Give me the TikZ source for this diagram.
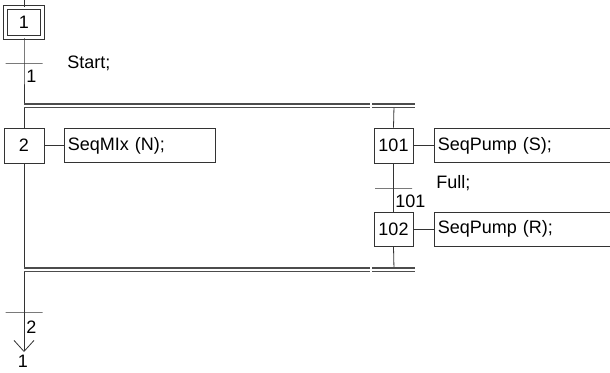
\documentclass[tikz,border=0pt]{standalone}
\usepackage{fontspec}
\setmainfont{Liberation Sans}
\usetikzlibrary{arrows.meta,positioning}

\begin{document}
\begin{tikzpicture}[x=1pt, y=-1pt, line width=0.8pt, draw=black!80,
  font=\fontsize{18}{21}\selectfont, node distance=20pt,
  stepbox/.style={draw=black!80, minimum width=40pt, minimum height=35pt, inner sep=0pt},
  initbox/.style={stepbox, double, double distance=3pt, minimum width=37pt, minimum height=30pt},
  actbox/.style={draw=black!80, minimum height=34pt, text width=#1, inner sep=3pt, align=left},
  actbox/.default={145pt},
  trans/.style={draw=black!80, minimum width=37pt, minimum height=0pt, inner sep=0pt},
  simup/.style={line width=1.1pt, black!70, transform canvas={yshift=1.8pt}},
  simdn/.style={line width=1.1pt, black!70, transform canvas={yshift=-1.8pt}},
  lbl/.style={inner sep=0pt}]
\useasboundingbox (0,0) rectangle (610,372);
% steps and actions
\node[initbox] (s1) at (24,22.5) {1};
\node[stepbox] (s2) at (24,145.5) {2};
\node[actbox, right=of s2] (a2) {SeqMIx (N);};
\node[stepbox, minimum width=39pt] (s101) at (393.5,145.5) {101};
\node[actbox=200pt, right=21pt of s101] (a101) {SeqPump (S);};
\node[stepbox, minimum width=39pt, minimum height=34pt] (s102) at (393.5,229) {102};
\node[actbox=200pt, right=21pt of s102] (a102) {SeqPump (R);};
% transitions
\node[trans] (t1) at (24,63) {};
\node[trans] (t101) at (393.5,188) {};
\node[trans] (t2) at (24,312) {};
\node[lbl, anchor=north west] (tl1) at (26,70) {1};
\node[lbl, anchor=base west] (rc1) at (67,68) {Start;};
\node[lbl, anchor=north west] (tl101) at (395,195) {101};
\node[lbl, anchor=base west] (rc101) at (436,188) {Full;};
\node[lbl, anchor=north west] (tl2) at (26,321) {2};
% fork and join
\coordinate (top) at (24,0);
\coordinate (fl) at (24,105.75);
\coordinate (fg) at (370,105.75);
\coordinate (fh) at (372,105.75);
\coordinate (fr) at (415,105.75);
\coordinate (fb) at (394,105.75);
\coordinate (jl) at (24,269.75);
\coordinate (jg) at (370,269.75);
\coordinate (jh) at (372,269.75);
\coordinate (jr) at (415,269.75);
\coordinate (jb) at (394,269.75);
\coordinate (e2) at (24,352);
\node[lbl, anchor=north] (nxt) at (23,355) {1};
% links
\draw (top) -- (s1.north);
\draw (s1.south) -- (t1.center) -- (fl);
\draw (fl) -- (s2.north);
\draw (s2.south) -- (jl);
\draw (jl) -- (t2.center);
\draw[-{Straight Barb[length=11pt, width=20pt]}] (t2.center) -- (e2);
\draw (fb) -- (s101.north);
\draw (s101.south) -- (t101.center) -- (s102.north);
\draw (s102.south) -- (jb);
\draw (s2.east) -- (a2.west);
\draw (s101.east) -- (a101.west);
\draw (s102.east) -- (a102.west);
\fill[white] (24,104.5) rectangle (415,107);
\fill[white] (24,268.5) rectangle (415,271);
\draw[simup] (fl) -- (fg);
\draw[simdn] (fl) -- (fg);
\draw[simup] (fh) -- (fr);
\draw[simdn] (fh) -- (fr);
\draw[simup] (jl) -- (jg);
\draw[simdn] (jl) -- (jg);
\draw[simup] (jh) -- (jr);
\draw[simdn] (jh) -- (jr);
\end{tikzpicture}
\end{document}
